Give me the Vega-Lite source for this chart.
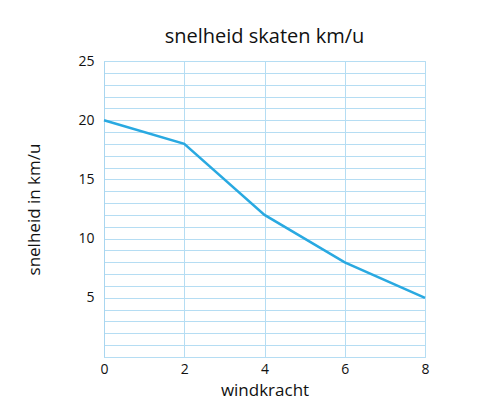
{
  "$schema": "https://vega.github.io/schema/vega-lite/v6.json",
  "width": 321,
  "height": 296,
  "autosize": {"type": "none"},
  "padding": {"left": 104, "top": 61, "right": 57, "bottom": 55},
  "background": "white",
  "title": {"text": "snelheid skaten km/u", "fontSize": 20, "font": "Open Sans", "fontWeight": "normal", "color": "#111", "offset": 7},
  "data": {"values": [
    {"windkracht": 0, "snelheid": 20},
    {"windkracht": 2, "snelheid": 18},
    {"windkracht": 4, "snelheid": 12},
    {"windkracht": 6, "snelheid": 8},
    {"windkracht": 8, "snelheid": 5}
  ]},
  "mark": {"type": "line", "color": "#29a9e1", "strokeWidth": 2.5},
  "encoding": {
    "x": {"field": "windkracht", "type": "quantitative", "scale": {"domain": [0, 8], "nice": false},
      "axis": {"values": [0, 2, 4, 6, 8], "title": "windkracht", "ticks": false, "domain": false, "labelFlush": false, "labelPadding": 5, "titlePadding": 6}},
    "y": {"field": "snelheid", "type": "quantitative", "scale": {"domain": [0, 25], "nice": false},
      "axis": {"values": [0,1,2,3,4,5,6,7,8,9,10,11,12,13,14,15,16,17,18,19,20,21,22,23,24,25],
        "labelExpr": "datum.value % 5 === 0 && datum.value > 0 ? datum.label : ''",
        "labelFlush": false,
        "title": "snelheid in km/u", "ticks": false, "domain": true, "domainColor": "#a9d6f0", "labelPadding": 10, "titlePadding": 34}}
  },
  "config": {
    "font": "Open Sans",
    "view": {"stroke": "#b5ddf3", "strokeWidth": 1},
    "axis": {"gridColor": "#b5ddf3", "gridOpacity": 1, "gridWidth": 1, "labelFontSize": 14, "labelColor": "#111", "titleFontSize": 17, "titleFontWeight": "normal", "titleColor": "#111", "labelFont": "Open Sans", "titleFont": "Open Sans"}
  }
}
